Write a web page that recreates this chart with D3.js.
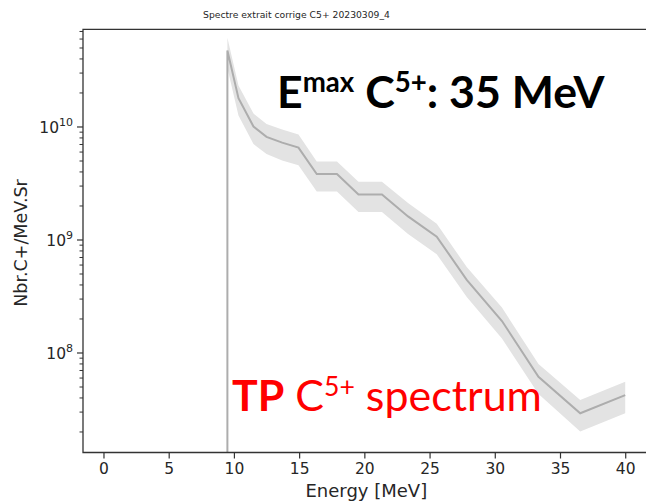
<!DOCTYPE html>
<html>
<head>
<meta charset="utf-8">
<script src="https://cdn.jsdelivr.net/npm/d3@7"></script>
<style>
  body { margin: 0; background: #fff; }
  svg { display: block; }
</style>
</head>
<body>
<div id="chart"></div>
<script>
// Spectrum data
var energy = [9.5, 9.5, 10.35, 11.5, 12.5, 13.7, 14.95, 16.35, 17.9, 19.55, 21.35, 23.35, 25.55, 27.85, 30.55, 33.35, 36.55, 40.0];
var counts = [1e3, 4.7e10, 1.78e10, 1.0e10, 8.1e9, 7.2e9, 6.5e9, 3.8e9, 3.8e9, 2.5e9, 2.5e9, 1.6e9, 1.06e9, 4.4e8, 1.9e8, 6.1e7, 2.9e7, 4.2e7];
var upper  = [1.3e3, 6.1e10, 2.3e10, 1.3e10, 1.05e10, 9.4e9, 8.5e9, 4.9e9, 4.9e9, 3.25e9, 3.25e9, 2.1e9, 1.38e9, 5.7e8, 2.5e8, 7.9e7, 3.8e7, 5.5e7];
var lower  = [0.7e3, 3.3e10, 1.25e10, 7.0e9, 5.7e9, 5.0e9, 4.55e9, 2.66e9, 2.66e9, 1.75e9, 1.75e9, 1.12e9, 7.4e8, 3.1e8, 1.33e8, 4.3e7, 2.0e7, 2.9e7];

var xTicks = [0, 5, 10, 15, 20, 25, 30, 35, 40];
var yMajor = [1e8, 1e9, 1e10];
var yExp   = ["8", "9", "10"];

var title  = "Spectre extrait corrige C5+ 20230309_4";
var xLabel = "Energy [MeV]";
var yLabel = "Nbr.C+/MeV.Sr";

var width = 646, height = 502;
var pL = 83, pT = 29.3, pR = 650, pB = 452.5;
var font = "'DejaVu Sans', sans-serif";
var ink = "#262626";

var svg = d3.select("#chart").append("svg")
  .attr("width", width)
  .attr("height", height);

var x = d3.scaleLinear().domain([-1.57, 41.9]).range([pL, pR]);
var y = d3.scaleLog().domain([Math.pow(10, 7.115), Math.pow(10, 10.86)]).range([pB, pT]);

svg.append("clipPath").attr("id", "clip")
  .append("rect")
    .attr("x", pL).attr("y", pT)
    .attr("width", pR - pL).attr("height", pB - pT);

var pts = energy.map(function(e, i) {
  return { e: e, v: counts[i], lo: lower[i], hi: upper[i] };
});

var plot = svg.append("g").attr("clip-path", "url(#clip)");

// error band
plot.append("path")
  .datum(pts)
  .attr("fill", "#e3e3e3")
  .attr("d", d3.area()
    .x(function(d) { return x(d.e); })
    .y0(function(d) { return y(d.lo); })
    .y1(function(d) { return y(d.hi); }));

// spectrum line
plot.append("path")
  .datum(pts)
  .attr("fill", "none")
  .attr("stroke", "#adadad")
  .attr("stroke-width", 2)
  .attr("d", d3.line()
    .x(function(d) { return x(d.e); })
    .y(function(d) { return y(d.v); }));

// x axis
var xAxis = svg.append("g")
  .attr("transform", "translate(0," + pB + ")")
  .call(d3.axisBottom(x).tickValues(xTicks).tickSize(6).tickPadding(4).tickFormat(d3.format("d")));
xAxis.select(".domain").remove();
xAxis.selectAll("line").attr("stroke", "#333").attr("stroke-width", 1.2);
xAxis.selectAll("text").attr("font-family", font).attr("font-size", 15.5).attr("fill", ink);

// y axis, minor ticks
var minor = [];
for (var p = 7; p <= 10; p++) {
  for (var k = 2; k <= 9; k++) {
    var v = k * Math.pow(10, p);
    if (v >= y.domain()[0] && v <= y.domain()[1]) minor.push(v);
  }
}
var yMinor = svg.append("g")
  .attr("transform", "translate(" + pL + ",0)")
  .call(d3.axisLeft(y).tickValues(minor).tickSize(3.5).tickFormat(""));
yMinor.select(".domain").remove();
yMinor.selectAll("line").attr("stroke", "#333").attr("stroke-width", 1);

var yAxis = svg.append("g")
  .attr("transform", "translate(" + pL + ",0)")
  .call(d3.axisLeft(y).tickValues(yMajor).tickSize(6).tickPadding(4).tickFormat(""));
yAxis.select(".domain").remove();
yAxis.selectAll("line").attr("stroke", "#333").attr("stroke-width", 1.2);
yAxis.selectAll(".tick text").each(function(d, i) {
  var t = d3.select(this)
    .attr("font-family", font).attr("font-size", 15.5).attr("fill", ink)
    .attr("dy", "0.38em");
  t.append("tspan").text("10");
  t.append("tspan").text(yExp[i]).attr("font-size", 11).attr("dy", -7);
});

// spines
svg.append("path")
  .attr("fill", "none")
  .attr("stroke", "#333")
  .attr("stroke-width", 1.3)
  .attr("d", "M" + pR + "," + pT + "H" + pL + "V" + pB + "H" + pR);

// labels
function fit(sel, target) {
  var w = sel.node().getBBox().width;
  var fs = parseFloat(sel.attr("font-size"));
  sel.attr("font-size", fs * target / w);
}

var tt = svg.append("text")
  .attr("x", 296.5).attr("y", 18)
  .attr("text-anchor", "middle")
  .attr("font-family", font).attr("font-size", 10).attr("fill", ink)
  .text(title);
fit(tt, 187);

svg.append("text")
  .attr("x", (x(0) + x(40)) / 2 + 2).attr("y", 497)
  .attr("text-anchor", "middle")
  .attr("font-family", font).attr("font-size", 18).attr("fill", ink)
  .text(xLabel);

svg.append("text")
  .attr("transform", "translate(27," + 243 + ") rotate(-90)")
  .attr("text-anchor", "middle")
  .attr("font-family", font).attr("font-size", 17.5).attr("fill", ink)
  .text(yLabel);

// slide annotations with superscripts
function richText(parts, x0, y0, fs, target, color) {
  var t = svg.append("text")
    .attr("x", x0).attr("y", y0)
    .attr("font-family", "Lato, 'Open Sans', sans-serif")
    .attr("fill", color);
  function build(size) {
    t.selectAll("tspan").remove();
    t.attr("font-size", size);
    var up = false;
    parts.forEach(function(p) {
      var s = t.append("tspan").text(p.text).attr("font-weight", p.bold ? 700 : 400);
      if (p.sup) {
        s.attr("font-size", size * 0.62).attr("dy", up ? 0 : -size * 0.36);
        up = true;
      } else {
        if (up) s.attr("dy", size * 0.36);
        up = false;
      }
    });
  }
  build(fs);
  var w = t.node().getBBox().width;
  build(fs * target / w);
}

richText([
  { text: "E", bold: true },
  { text: "max", bold: true, sup: true },
  { text: " C", bold: true },
  { text: "5+", bold: true, sup: true },
  { text: ": 35 MeV", bold: true }
], 277, 108, 44, 328, "#000");

richText([
  { text: "TP", bold: true },
  { text: " C" },
  { text: "5+", sup: true },
  { text: " spectrum" }
], 232, 411, 44, 310, "#ff0000");
</script>
</body>
</html>
